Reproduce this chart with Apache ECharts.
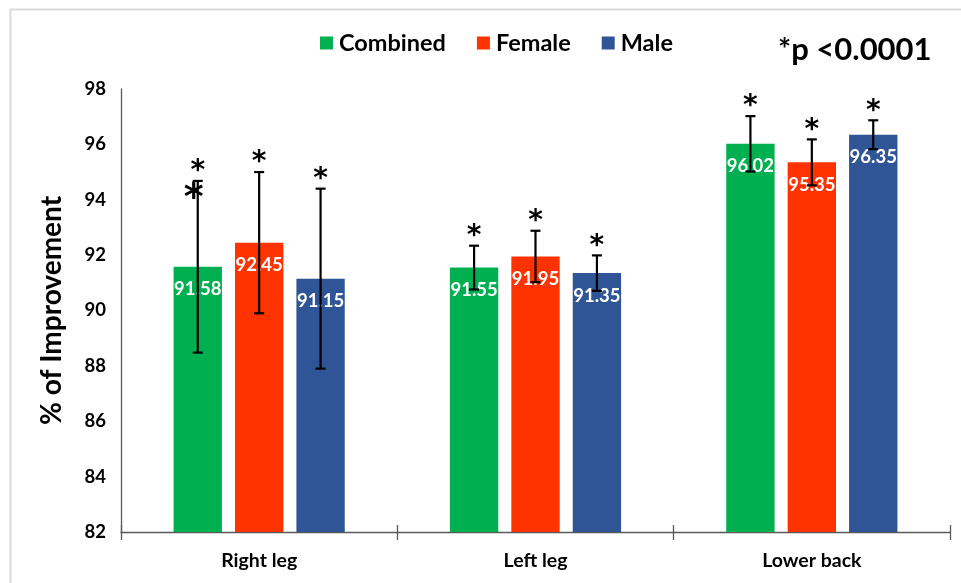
<!DOCTYPE html>
<html>
<head>
<meta charset="utf-8">
<script src="https://cdn.jsdelivr.net/npm/echarts@6/dist/echarts.min.js"></script>
<style>
html,body{margin:0;padding:0;background:#fff;}
#chart{width:961px;height:583px;}
</style>
</head>
<body>
<div id="chart"></div>
<script>
const categories = ['Right leg', 'Left leg', 'Lower back'];
const seriesNames = ['Combined', 'Female', 'Male'];
const combined = [91.58, 91.55, 96.02];
const female = [92.45, 91.95, 95.35];
const male = [91.15, 91.35, 96.35];
const combinedErr = [3.10, 0.79, 1.00];
const femaleErr = [2.55, 0.93, 0.83];
const maleErr = [3.25, 0.64, 0.52];
const yMin = 82, yMax = 98, yInterval = 2;
const annotation = '*p <0.0001';

const FONT = 'Lato';
const colors = ['#00B050', '#FF3300', '#2F5597'];
const values = [combined, female, male];
const errs = [combinedErr, femaleErr, maleErr];

const errData = [];
values.forEach((arr, si) => {
  arr.forEach((v, ci) => {
    errData.push([ci, v, errs[si][ci], si]);
  });
});

const BAR_FRAC = 0.175, GAP_FRAC = 0.27;

function renderErr(params, api) {
  const ci = api.value(0), v = api.value(1), e = api.value(2), si = api.value(3);
  const band = api.size([1, 0])[0];
  const bw = band * BAR_FRAC;
  const off = (si - 1) * bw * (1 + GAP_FRAC);
  const top = api.coord([ci, v + e]);
  const bot = api.coord([ci, v - e]);
  const x = top[0] + off;
  const half = 5;
  const st = {stroke: '#000', lineWidth: 2.2};
  const children = [
    {type: 'line', shape: {x1: x, y1: top[1], x2: x, y2: bot[1]}, style: st},
    {type: 'line', shape: {x1: x - half, y1: top[1], x2: x + half, y2: top[1]}, style: st},
    {type: 'line', shape: {x1: x - half, y1: bot[1], x2: x + half, y2: bot[1]}, style: st},
    {type: 'text', x: x, y: top[1] - 9, style: {text: '*', fill: '#000', font: 'bold 28px "DejaVu Sans"', textAlign: 'center', textVerticalAlign: 'middle'}}
  ];
  if (si === 0 && ci === 0) {
    children.push({type: 'text', x: x - 4, y: top[1] + 18, style: {text: '*', fill: '#000', font: 'bold 38px "DejaVu Sans"', textAlign: 'center', textVerticalAlign: 'middle'}});
  }
  return {type: 'group', children: children};
}

const chart = echarts.init(document.getElementById('chart'));
const barSeries = seriesNames.map((name, si) => ({
  name: name,
  type: 'bar',
  data: values[si],
  barWidth: (BAR_FRAC * 100) + '%',
  barGap: (GAP_FRAC * 100) + '%',
  itemStyle: {color: colors[si]},
  label: {
    show: true, position: 'insideTop', distance: 13,
    color: '#fff', fontFamily: FONT, fontWeight: 'bold', fontSize: 18.5,
    formatter: p => p.value.toFixed(2)
  },
  z: 2
}));

chart.setOption({
  animation: false,
  backgroundColor: '#fff',
  textStyle: {fontFamily: FONT},
  grid: {left: 121, right: 11, top: 89, bottom: 51, containLabel: false},
  legend: {
    data: seriesNames,
    left: 320, top: 31, padding: 0,
    itemWidth: 13, itemHeight: 13, itemGap: 31,
    icon: 'rect',
    textStyle: {fontFamily: FONT, fontWeight: 'bold', fontSize: 23.5, color: '#000', padding: [0, 0, 0, 1]}
  },
  xAxis: [{
    type: 'category', data: categories,
    axisLine: {lineStyle: {color: '#595959', width: 1.3}},
    axisTick: {show: true, length: 8, lineStyle: {color: '#595959', width: 1.3}},
    axisLabel: {color: '#000', fontFamily: FONT, fontWeight: 'bold', fontSize: 19.5, margin: 19}
  }, {
    type: 'category', data: categories, position: 'bottom',
    axisLine: {show: false},
    axisTick: {show: true, inside: true, length: 7, lineStyle: {color: '#595959', width: 1.3}},
    axisLabel: {show: false}
  }],
  yAxis: {
    type: 'value', min: yMin, max: yMax, interval: yInterval,
    name: '% of Improvement', nameLocation: 'middle', nameGap: 55, nameRotate: 90,
    nameTextStyle: {color: '#000', fontFamily: FONT, fontWeight: 'bold', fontSize: 28},
    axisLine: {show: true, lineStyle: {color: '#595959', width: 1.3}},
    axisTick: {show: false},
    splitLine: {show: false},
    axisLabel: {color: '#000', fontFamily: FONT, fontWeight: 'bold', fontSize: 18.5, margin: 15}
  },
  graphic: [
    {type: 'rect', left: 8, top: 7, shape: {width: 1100, height: 1000}, style: {fill: 'none', stroke: '#d9d9d9', lineWidth: 2}, silent: true},
    {type: 'text', left: 778, top: 34, style: {text: annotation, fill: '#000', font: 'bold 31px ' + FONT}}
  ],
  series: barSeries.concat([{
    type: 'custom', name: 'err', renderItem: renderErr,
    data: errData, encode: {x: 0, y: 1}, z: 10, silent: true
  }])
});
</script>
</body>
</html>
